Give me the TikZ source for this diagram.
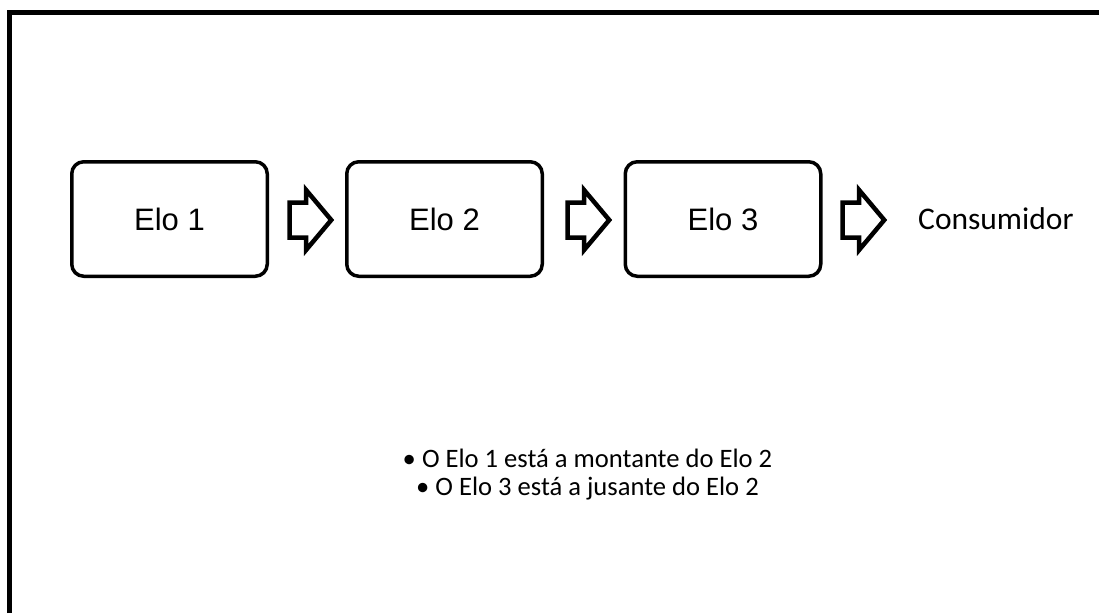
\documentclass[tikz,border=0pt]{standalone}
\usepackage{fontspec}
\usetikzlibrary{shapes.arrows}
\newfontfamily\arialf{Liberation Sans}
\newfontfamily\calf{Carlito}
\tikzset{
  elobox/.style={draw=black, line width=3.5pt, rounded corners=12pt, fill=white,
    minimum width=195.5pt, minimum height=114.5pt, inner sep=0pt,
    font=\arialf\fontsize{31}{36}\selectfont},
  blockarrow/.style={draw=black, line width=4.5pt, fill=white, single arrow,
    single arrow tip angle=100, single arrow head extend=12.5pt,
    text height=15.25pt, text depth=15.25pt, text width=0pt,
    minimum height=41.75pt, inner sep=0pt, anchor=tail},
  plaintext/.style={inner sep=0pt, font=\calf\fontsize{31.5}{36}\selectfont},
  bullettext/.style={inner sep=0pt, font=\calf\fontsize{26.6}{32}\selectfont}
}
\begin{document}
\begin{tikzpicture}[x=1pt, y=-1pt]
  \useasboundingbox (0,0) rectangle (1099,613);
  % outer frame (top and left edges)
  \draw[line width=5pt, line join=miter] (9.5,613) -- (9.5,12) -- (1099,12);

  % chain links
  \node[elobox] (e1) at (169.5,219) {Elo 1};
  \node[elobox] (e2) at (444.5,219) {Elo 2};
  \node[elobox] (e3) at (723,219) {Elo 3};

  % block arrows between links
  \node[blockarrow] (a1) at (287.25,220) {};
  \node[blockarrow] (a2) at (565.25,220) {};
  \node[blockarrow] (a3) at (840.25,220) {};

  \node[plaintext, anchor=base west] (cons) at (918,229.5) {Consumidor};

  % notes
  \node[bullettext, anchor=base] (n1) at (587.5,467.5) {• O Elo 1 está a montante do Elo 2};
  \node[bullettext, anchor=base] (n2) at (587.5,495.5) {• O Elo 3 está a jusante do Elo 2};
\end{tikzpicture}
\end{document}
